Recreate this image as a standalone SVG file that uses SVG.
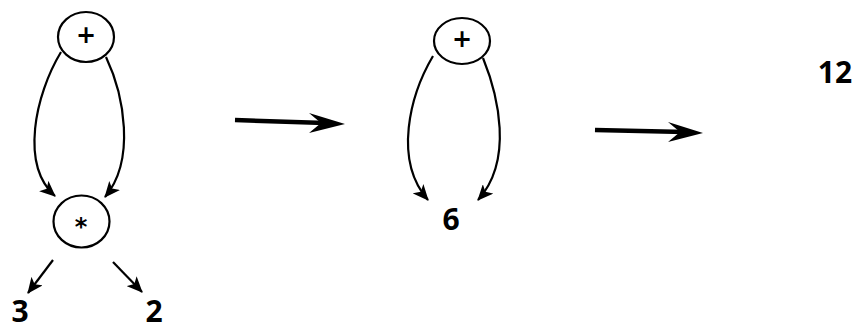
<svg xmlns="http://www.w3.org/2000/svg" width="853" height="331" viewBox="0 0 853 331">
<style>
.node{fill:#fff;stroke:#000;stroke-width:2.2}
.op{font-family:"DejaVu Sans",sans-serif;font-weight:bold;font-size:24px;text-anchor:middle;fill:#000}
.num{font-family:"Open Sans","DejaVu Sans",sans-serif;font-weight:bold;font-size:30px;text-anchor:middle;fill:#000}
.edge{fill:none;stroke:#000;stroke-width:2.2}
.big{fill:none;stroke:#000;stroke-width:4.5}
.head{fill:#000}
</style>
<defs>
<marker id="ah" markerUnits="userSpaceOnUse" markerWidth="16" markerHeight="14" refX="15" refY="7" orient="auto" viewBox="0 0 16 14">
<path d="M0,0 L16,7 L0,14 L4,7 z" fill="#000"/>
</marker>
</defs>
<g id="connectors">
<path class="edge" d="M61,52 C35,95 20,165 55,196" marker-end="url(#ah)"/>
<path class="edge" d="M106,57 C124,95 136,160 105,197" marker-end="url(#ah)"/>
<path class="edge" d="M53,260 L28,293" marker-end="url(#ah)"/>
<path class="edge" d="M113,262 L142,292" marker-end="url(#ah)"/>
<path class="edge" d="M433,56 C410,95 393,160 428,200" marker-end="url(#ah)"/>
<path class="edge" d="M483,58 C498,95 514,160 478,200" marker-end="url(#ah)"/>
<path class="big" d="M235,120 L325,123"/>
<path class="head" d="M345,124 L309,113 L321,123 L309,133 z"/>
<path class="big" d="M595,130 L685,132"/>
<path class="head" d="M703,133 L668,122 L680,132 L668,142 z"/>
</g>
<g id="plus1">
<ellipse class="node" cx="86" cy="37" rx="28" ry="25"/>
<text class="op" x="86" y="43">+</text>
</g>
<g id="times">
<ellipse class="node" cx="81.5" cy="221.5" rx="28" ry="26"/>
<text class="op" x="81" y="235">*</text>
</g>
<g id="n3"><text class="num" x="20" y="322">3</text></g>
<g id="n2"><text class="num" x="154" y="322">2</text></g>
<g id="plus2">
<ellipse class="node" cx="462" cy="41" rx="28" ry="23"/>
<text class="op" x="462" y="47">+</text>
</g>
<g id="n6"><text class="num" x="451" y="230">6</text></g>
<g id="n12"><text class="num" x="835" y="83">12</text></g>
</svg>
